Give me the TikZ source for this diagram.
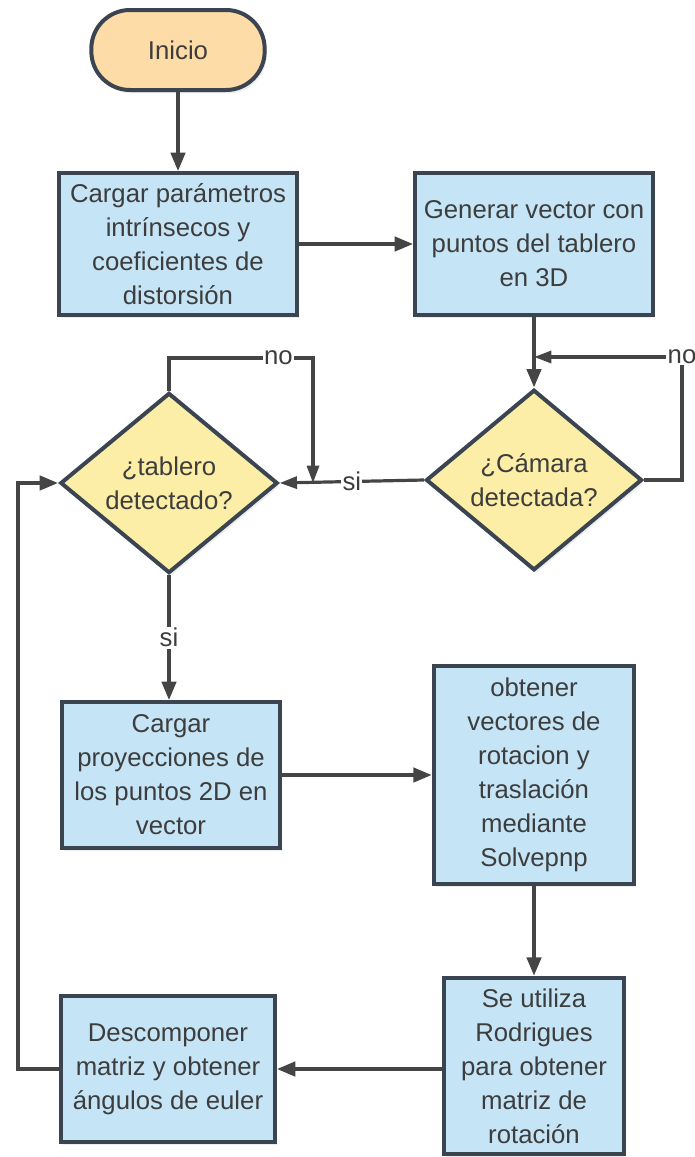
\documentclass[tikz,border=0pt]{standalone}
\usepackage{fontspec}
\setmainfont{Liberation Sans}
\usetikzlibrary{positioning, calc, shapes.geometric, arrows.meta, shadows}
\definecolor{fcBlue}{HTML}{C5E4F5}
\definecolor{fcPeach}{HTML}{FDDCA8}
\definecolor{fcYellow}{HTML}{FCEEA6}
\definecolor{fcBorder}{HTML}{3B4552}
\definecolor{fcLine}{HTML}{454545}
\definecolor{fcText}{HTML}{3D3D3D}

\tikzset{
  base/.style={draw=fcBorder, line width=3pt, text=fcText, align=center,
    inner sep=0pt, font=\fontsize{19.3}{25.5}\selectfont,
    drop shadow={opacity=0.15, shadow xshift=1.5pt, shadow yshift=-2.5pt}},
  procbox/.style={base, fill=fcBlue, rectangle},
  startbox/.style={base, fill=fcPeach, rectangle, rounded corners=29pt},
  decision/.style={base, fill=fcYellow, diamond},
  conn/.style={draw=fcLine, line width=3.2pt, -{Triangle[length=14pt, width=10.5pt]}},
  loopconn/.style={draw=fcLine, line width=2.4pt, -{Triangle[length=13pt, width=9pt]}},
  lbl/.style={fill=white, text=fcText, inner sep=1pt, font=\fontsize{19.3}{22}\selectfont}
}

\begin{document}
\begin{tikzpicture}[x=0.75pt, y=-0.75pt]
  \useasboundingbox (0,0) rectangle (695,1157);

  % nodes
  \node[startbox, minimum width=130pt, minimum height=60pt] (start) at (178,50) {Inicio};
  \node[procbox, minimum width=178pt, minimum height=106pt] (load) at (178,244)
    {Cargar parámetros\\intrínsecos y\\coeficientes de\\distorsión};
  \node[procbox, minimum width=178pt, minimum height=106pt] (gen) at (534,244)
    {Generar vector con\\puntos del tablero\\en 3D};
  \node[decision, minimum width=162pt, minimum height=135pt] (cam) at (534,480)
    {¿Cámara\\detectada?};
  \node[decision, minimum width=163pt, minimum height=128pt] (board) at (169,483)
    {¿tablero\\detectado?};
  \node[procbox, minimum width=163pt, minimum height=109pt] (proj) at (171,775)
    {Cargar\\proyecciones de\\los puntos 2D en\\vector};
  \node[procbox, minimum width=150pt, minimum height=163pt] (pnp) at (534,775)
    {obtener\\vectores de\\rotacion y\\traslación\\mediante\\Solvepnp};
  \node[procbox, minimum width=135pt, minimum height=132pt] (rodr) at (534,1066)
    {Se utiliza\\Rodrigues\\para obtener\\matriz de\\rotación};
  \node[procbox, minimum width=160pt, minimum height=109pt] (euler) at (168,1069)
    {Descomponer\\matriz y obtener\\ángulos de euler};

  % free ends
  \coordinate (camno) at (682,357);
  \coordinate (boardno) at (313,358);
  \coordinate (ret) at (18,1069);

  % connectors
  \draw[conn] (start) -- (load);
  \draw[conn] (load) -- (gen);
  \draw[conn] (gen) -- (cam);
  \draw[loopconn] (cam.east) -| (camno) -- (gen.south |- camno);
  \node[lbl] at (camno) {no};
  \draw[loopconn] (cam.west) -- node[lbl] {si} (board.east);
  \draw[loopconn] (board.north) |- node[lbl, pos=0.88] {no} (boardno) -- (boardno |- board.east);
  \draw[conn] (board.south) -- node[lbl] {si} (board.south |- proj.north);
  \draw[conn] (proj) -- (pnp);
  \draw[conn] (pnp) -- (rodr);
  \draw[conn] (rodr.west |- euler) -- (euler.east);
  \draw[conn] (euler.west) -- (ret) |- (board.west);
\end{tikzpicture}
\end{document}
